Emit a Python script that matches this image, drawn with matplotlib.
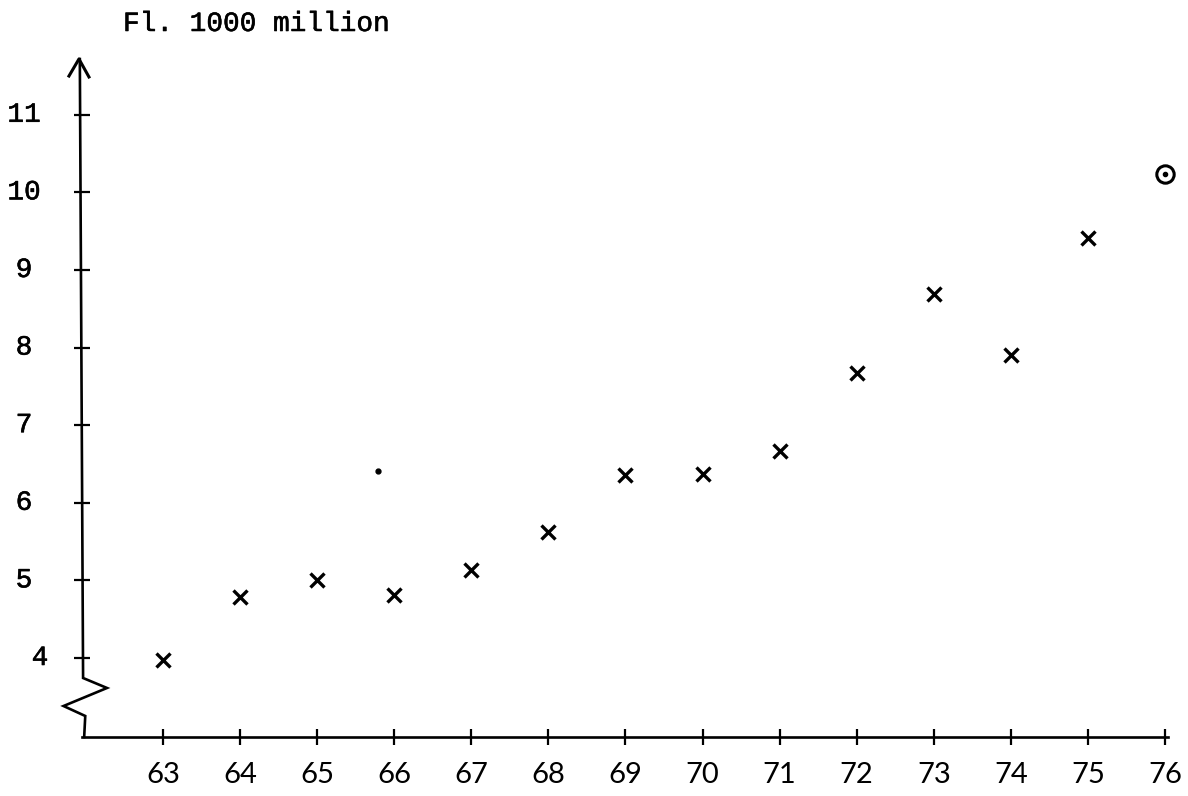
import matplotlib.pyplot as plt
import matplotlib.patheffects as pe

# ====== Data ======
years = [63, 64, 65, 66, 67, 68, 69, 70, 71, 72, 73, 74, 75]
values = [3.97, 4.79, 5.00, 4.81, 5.13, 5.62, 6.36, 6.37, 6.67, 7.67, 8.69, 7.90, 9.41]

# the ringed point (forecast) for 76
forecast_year = [76]
forecast_value = [10.24]

# small stray pencil dot
stray_year = [65.79]
stray_value = [6.41]

xtick_years = list(range(63, 77))
ytick_values = list(range(4, 12))

title = "Fl. 1000 million"

# ====== Figure ======
W, H = 1188, 796
fig = plt.figure(figsize=(W / 100, H / 100), dpi=100)
fig.patch.set_facecolor("white")

# axes box placed so that the spines sit where the drawn axes are
left_px, right_px, bottom_px, top_px = 82, 1168, 737, 59
ax = fig.add_axes([left_px / W, 1 - bottom_px / H,
                   (right_px - left_px) / W, (bottom_px - top_px) / H])
ax.set_xlim(61.949, 76.0385)
ax.set_ylim(2.982, 11.719)

ink = "black"
typewriter = dict(family=["Liberation Mono", "DejaVu Sans Mono"], size=20,
                  color=ink,
                  path_effects=[pe.withStroke(linewidth=0.4, foreground=ink)])

# spines: keep bottom, draw the broken left axis by hand
for s in ["top", "right", "left"]:
    ax.spines[s].set_visible(False)
ax.spines["bottom"].set_linewidth(1.9)

ax.tick_params(axis="both", direction="inout", length=12, width=1.6,
               color=ink)
ax.set_xticks(xtick_years)
ax.set_xticklabels([str(y) for y in xtick_years],
                   family=["Lato", "DejaVu Sans"], size=21, color=ink)
ax.tick_params(axis="x", pad=12)
ax.set_yticks(ytick_values)
ax.set_yticklabels([])

# y tick labels in typewriter type
ytrans = ax.get_yaxis_transform()
for v in ytick_values:
    xpos = -0.0387 if v == 4 else -0.0534
    ax.text(xpos, v, str(v), transform=ytrans, ha="center", va="center",
            **typewriter)

# left axis with zig-zag break and open arrow head
axis_x = [0.002, 0.003, -0.017, 0.023, 0.001, -0.002]
axis_y = [0.0, 0.031, 0.0457, 0.0723, 0.087, 1.0]
ax.plot(axis_x, axis_y, color=ink, lw=1.9, transform=ax.transAxes,
        clip_on=False, solid_joinstyle="miter")
ax.plot([-0.0120, -0.0028, 0.0064], [0.9749, 1.0, 0.9735], color=ink,
        lw=2.2, transform=ax.transAxes, clip_on=False)

# data points
ax.plot(years, values, linestyle="none", marker="x", markersize=10,
        markeredgewidth=2.4, color=ink, clip_on=False)
ax.plot(forecast_year, forecast_value, linestyle="none", marker="o",
        markersize=12.5, markerfacecolor="none", markeredgewidth=2.2,
        color=ink, clip_on=False)
ax.plot(forecast_year, forecast_value, linestyle="none", marker="o",
        markersize=3, color=ink, clip_on=False)
ax.plot(stray_year, stray_value, linestyle="none", marker="o",
        markersize=3.5, color=ink)

fig.text(123 / W, 1 - 24 / H, title, ha="left", va="center", **typewriter)

fig.savefig("out.png", dpi=100, facecolor="white")
